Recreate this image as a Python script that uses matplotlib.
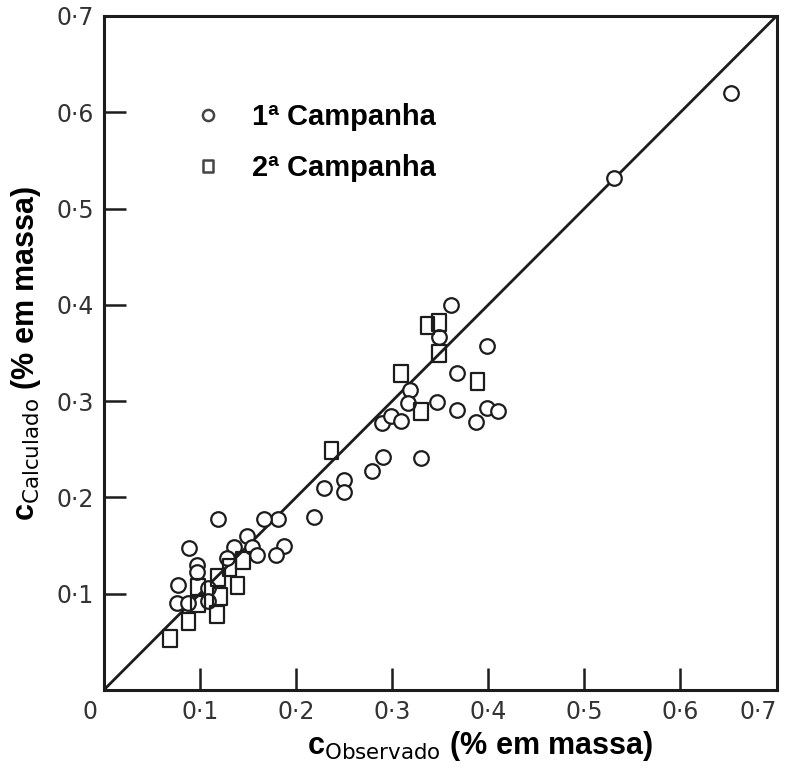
"""Calculated vs observed concentration, two field campaigns."""

import matplotlib
matplotlib.use("Agg")
import matplotlib.pyplot as plt
from matplotlib.path import Path
from matplotlib.lines import Line2D

# 1a Campanha (circles)
C1_OBS = [0.653, 0.531, 0.361, 0.399, 0.349, 0.368, 0.319, 0.317, 0.347,
          0.368, 0.387, 0.399, 0.410, 0.289, 0.299, 0.309, 0.229, 0.250,
          0.250, 0.279, 0.291, 0.330, 0.219, 0.181, 0.167, 0.119, 0.089,
          0.149, 0.136, 0.154, 0.188, 0.179, 0.159, 0.128, 0.097, 0.097,
          0.077, 0.108, 0.076, 0.088, 0.108]
C1_CALC = [0.620, 0.532, 0.400, 0.357, 0.367, 0.329, 0.312, 0.298, 0.299,
           0.291, 0.278, 0.293, 0.290, 0.277, 0.285, 0.279, 0.210, 0.218,
           0.206, 0.227, 0.242, 0.241, 0.180, 0.178, 0.178, 0.178, 0.147,
           0.160, 0.149, 0.149, 0.150, 0.140, 0.140, 0.137, 0.130, 0.123,
           0.109, 0.106, 0.090, 0.090, 0.092]

# 2a Campanha (squares)
C2_OBS = [0.337, 0.349, 0.349, 0.309, 0.389, 0.330, 0.237, 0.145, 0.131,
          0.119, 0.139, 0.098, 0.121, 0.088, 0.118, 0.069, 0.098]
C2_CALC = [0.379, 0.382, 0.350, 0.329, 0.320, 0.289, 0.249, 0.135, 0.127,
           0.117, 0.109, 0.106, 0.097, 0.071, 0.078, 0.054, 0.090]

LINE_X = [0.0, 0.7]
TICKS = [0.1, 0.2, 0.3, 0.4, 0.5, 0.6, 0.7]
TICK_LABELS = ["0\u00b71", "0\u00b72", "0\u00b73", "0\u00b74", "0\u00b75",
               "0\u00b76", "0\u00b77"]

INK = "#1c1c1c"
LABEL_INK = "#333333"

plt.rcParams["mathtext.fontset"] = "custom"
plt.rcParams["mathtext.rm"] = "Liberation Sans Narrow"
plt.rcParams["mathtext.bf"] = "Liberation Sans:bold"

# slightly tall open rectangle, as in the original scan
TALL_SQUARE = Path([(-0.8, -1), (0.8, -1), (0.8, 1), (-0.8, 1), (-0.8, -1)],
                   [Path.MOVETO, Path.LINETO, Path.LINETO, Path.LINETO,
                    Path.CLOSEPOLY])

fig = plt.figure(figsize=(7.86, 7.69), dpi=100)
ax = fig.add_axes([0.132, 0.1027, 0.856, 0.8765])

ax.plot(LINE_X, LINE_X, color=INK, linewidth=2.0, zorder=2)
ax.scatter(C1_OBS, C1_CALC, s=110, marker="o", facecolors="white",
           edgecolors=INK, linewidths=1.6, zorder=3)
ax.scatter(C2_OBS, C2_CALC, s=150, marker=TALL_SQUARE, facecolors="none",
           edgecolors=INK, linewidths=1.6, zorder=3)

ax.set_xlim(0, 0.7)
ax.set_ylim(0, 0.7)
for side in ax.spines.values():
    side.set_linewidth(2.2)
    side.set_color(INK)

ax.set_xticks(TICKS)
ax.set_xticklabels(TICK_LABELS)
ax.set_yticks(TICKS)
ax.set_yticklabels(TICK_LABELS)
ax.tick_params(direction="in", length=16, width=1.8, color=INK,
               labelsize=17, labelcolor=LABEL_INK, pad=7)
ax.get_xticklabels()[-1].set_horizontalalignment("right")
ax.annotate("0", xy=(0, 0), xytext=(-10, -7), textcoords="offset points",
            ha="center", va="top", fontsize=17, color=LABEL_INK,
            annotation_clip=False)

ax.set_xlabel(r"$\mathbf{c}_{\mathrm{Observado}}$ (% em massa)",
              fontsize=22, fontweight="bold", family="Liberation Sans")
ax.xaxis.set_label_coords(0.56, -0.058)
ax.set_ylabel(r"$\mathbf{c}_{\mathrm{Calculado}}$ (% em massa)",
              fontsize=22, fontweight="bold", family="Liberation Sans")
ax.yaxis.set_label_coords(-0.09, 0.5)

handles = [
    Line2D([], [], linestyle="none", marker="o", markersize=8,
           markerfacecolor="white", markeredgecolor="#444444",
           markeredgewidth=1.8),
    Line2D([], [], linestyle="none", marker=TALL_SQUARE, markersize=9,
           markerfacecolor="white", markeredgecolor="#444444",
           markeredgewidth=1.8),
]
ax.legend(handles, ["1\u00aa Campanha", "2\u00aa Campanha"],
          loc="upper left", bbox_to_anchor=(0.09, 0.91), frameon=False,
          handletextpad=0.9, labelspacing=0.8, handlelength=1.2,
          prop={"family": "Liberation Sans", "weight": "bold", "size": 21})

fig.savefig("out.png", dpi=100)
